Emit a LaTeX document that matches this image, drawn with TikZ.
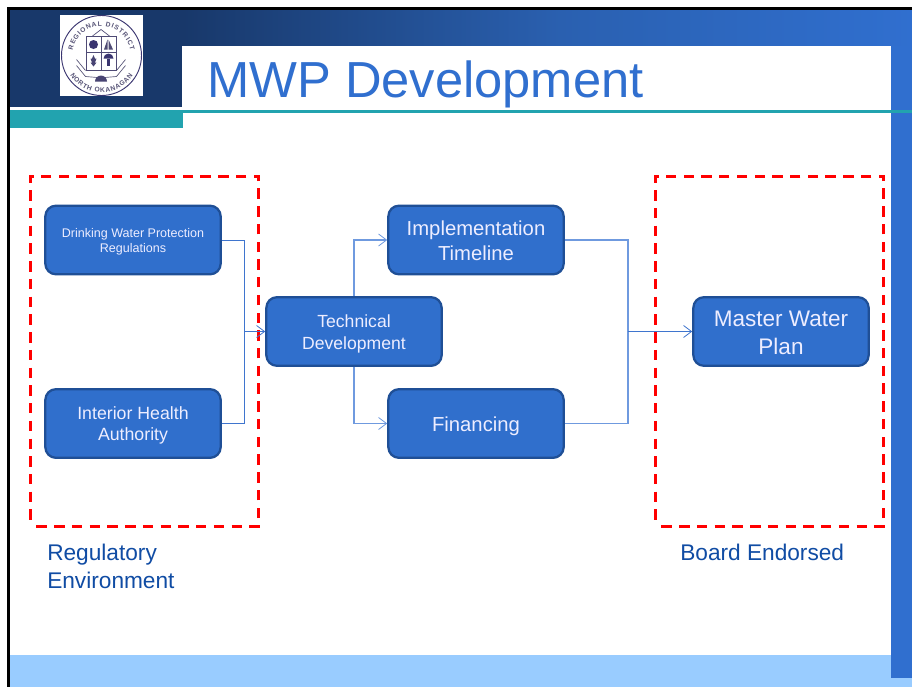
\documentclass[tikz,border=0pt]{standalone}
\usepackage{fontspec}
\setmainfont{Liberation Sans}
\usetikzlibrary{arrows.meta,decorations.text}
\definecolor{boxfill}{HTML}{306FCC}
\definecolor{boxline}{HTML}{1F4F96}
\definecolor{navy}{HTML}{18386A}
\definecolor{midblue}{HTML}{2A60B0}
\definecolor{brightblue}{HTML}{306FCF}
\definecolor{teal}{HTML}{22A3AF}
\definecolor{paleblue}{HTML}{99CCFF}
\definecolor{labelblue}{HTML}{104CA4}
\definecolor{wire}{HTML}{3F75CE}
\definecolor{wirepale}{HTML}{6F9ADF}
\definecolor{crest}{HTML}{3A3570}
\newcommand{\fs}[2]{\fontsize{#1}{#2}\selectfont}
\newcommand{\boxtext}[2]{\raisebox{-#1}[\dimexpr\height+#1\relax][\dimexpr\depth+#1\relax]{\begin{tabular}{@{}c@{}}#2\end{tabular}}}
\tikzset{
  flowbox/.style={draw=boxline,fill=boxfill,line width=1.7pt,rounded corners=8pt,text=white!93!blue,
    minimum width=131.5pt,minimum height=51.5pt,inner sep=0pt},
  wireplain/.style={draw=wire,line width=0.75pt},
  wirepaleplain/.style={draw=wirepale,line width=0.85pt},
  wireline/.style={wireplain,-{Straight Barb[length=6pt,width=9pt,line width=0.6pt]}},
  wirepaleline/.style={wirepaleplain,-{Straight Barb[length=6pt,width=9pt,line width=0.6pt]}},
  redzone/.style={draw=red,line width=2.25pt,dash pattern=on 7.8pt off 5.5pt,dash phase=8.5pt},
  caption/.style={text=labelblue,anchor=west,inner sep=0pt,align=left,font=\fs{17}{21}}
}
\begin{document}
\begin{tikzpicture}[x=0.75pt,y=-0.75pt]
\useasboundingbox (0,0) rectangle (912,687);
\fill[white] (0,0) rectangle (912,687);
% frame and banner
\fill[black] (7,7) rectangle (912,10);
\fill[black] (7,7) rectangle (10,687);
\fill[navy] (10,10) rectangle (183,107);
\shade[left color=navy,right color=midblue,middle color=navy!50!midblue] (183,10) rectangle (560,46);
\shade[left color=midblue,right color=brightblue] (560,10) rectangle (912,46);
\fill[brightblue] (891,46) rectangle (912,110);
\fill[paleblue] (10,655) rectangle (912,687);
\fill[brightblue] (891,113) rectangle (912,678);
\fill[teal] (10,110) rectangle (183,128);
\fill[teal] (183,110) rectangle (912,113);
% logo
\fill[white] (60,15) rectangle (143,96);
\begin{scope}[shift={(101.5,55.5)},x=0.75pt,y=0.75pt]
  \draw[crest,line width=0.7pt] (0,0) circle (40);
  \path[postaction={decorate},decoration={text along path,text align={fit to path},
     text={|\fs{5}{6}\bfseries\color{crest!60!gray}|REGIONAL DISTRICT}}]
     (-28.9,5) arc (170:10:29.3);
  \path[postaction={decorate},decoration={text along path,text align={fit to path},
     text={|\fs{5}{6}\bfseries\color{crest!60!gray}|NORTH OKANAGAN}}]
     (-31.4,-19.6) arc (212:328:37);
  \draw[crest!70!gray,fill=white,line width=0.6pt] (-15.5,19.5) rectangle (14.5,-14.5);
  \draw[crest!70!gray,line width=0.6pt] (-0.5,19.5) -- (-0.5,-14.5) (-15.5,3) -- (14.5,3);
  \draw[crest!70!gray,line width=0.5pt] (-9,19.5) -- (-0.5,26) -- (8,19.5);
  \fill[crest] (-8,11) circle (4.5);
  \fill[crest!70!gray] (7,6) -- (7,16) -- (11.5,6) -- cycle;
  \fill[crest!70!gray] (6,6) -- (6,16) -- (2.5,6) -- cycle;
  \fill[crest!80!gray] (-8,-11) -- (-11,-7) -- (-9.5,-7) -- (-11,-3) -- (-9.5,-3) -- (-8,0.5) -- (-6.5,-3) -- (-5,-3) -- (-6.5,-7) -- (-5,-7) -- cycle;
  \fill[crest] (2,-3) arc (180:0:5) -- cycle;
  \fill[crest] (5.5,-3) rectangle (8.5,-10);
  \draw[crest!60!gray,line width=0.5pt] (-25,-10) -- (-16,-21) -- (-4,-22) (24,-10) -- (15,-21) -- (3,-22);
  \draw[crest!60!gray,line width=0.5pt] (-25,-4) -- (-16,-15) (24,-4) -- (15,-15);
  \fill[crest!80!gray] (-6.5,-26) arc (180:0:6) -- cycle;
\end{scope}
% title
\fill[white] (182,46) rectangle (891,110);
\node[anchor=west,inner sep=0pt,text=brightblue,font=\fs{38}{42}] (title) at (207,84.5) {MWP Development};
% zones
\node[redzone,minimum width=171.7pt,minimum height=262.5pt,inner sep=0pt] (zoneL) at (144.5,351) {};
\node[redzone,minimum width=171.7pt,minimum height=262.5pt,inner sep=0pt] (zoneR) at (769.5,351) {};
% boxes
\node[flowbox,font=\fs{9.4}{11.3}] (dw) at (133,240) {\boxtext{1.5pt}{Drinking Water Protection\\Regulations}};
\node[flowbox,font=\fs{13.3}{15.8}] (ih) at (133,423.5) {\boxtext{1.5pt}{Interior Health\\Authority}};
\node[flowbox,font=\fs{13.2}{16.4}] (tech) at (354,331.5) {\boxtext{2.25pt}{Technical\\Development}};
\node[flowbox,font=\fs{15.2}{18.8}] (impl) at (476,240) {\boxtext{2.25pt}{Implementation\\Timeline}};
\node[flowbox,font=\fs{15.2}{18.8}] (fin) at (476,423.5) {\boxtext{2.25pt}{Financing}};
\node[flowbox,font=\fs{16.9}{21}] (mwp) at (781,331.5) {\boxtext{2.25pt}{Master Water\\Plan}};
% junctions
\coordinate (jl) at (244,331.5);
\coordinate (jr) at (628,331.5);
% connectors
\draw[wireplain] (dw.east) -| (jl);
\draw[wireplain] (ih.east) -| (jl);
\draw[wireline] (jl) -- (tech.west);
\draw[wirepaleline] (tech.north) |- (impl.west);
\draw[wirepaleline] (tech.south) |- (fin.west);
\draw[wirepaleplain] (impl.east) -| (jr);
\draw[wirepaleplain] (fin.east) -| (jr);
\draw[wireline] (jr) -- (mwp.west);
% captions
\node[caption] (reg) at (47,566) {Regulatory\\Environment};
\node[caption] (board) at (680,552) {Board Endorsed};
\end{tikzpicture}
\end{document}
